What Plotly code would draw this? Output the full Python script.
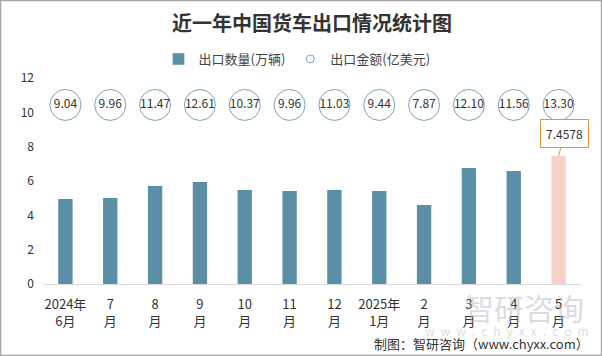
import plotly.graph_objects as go

categories = ["2024年<br>6月", "7<br>月", "8<br>月", "9<br>月", "10<br>月", "11<br>月",
              "12<br>月", "2025年<br>1月", "2<br>月", "3<br>月", "4<br>月", "5<br>月"]
export_volume = [4.95, 5.01, 5.71, 5.94, 5.47, 5.42, 5.47, 5.42, 4.60, 6.76, 6.58, 7.4578]
export_value = [9.04, 9.96, 11.47, 12.61, 10.37, 9.96, 11.03, 9.44, 7.87, 12.10, 11.56, 13.30]
y_ticks = [0, 2, 4, 6, 8, 10, 12]
callout_text = "7.4578"

W, H = 602, 356
ML, MR, MT, MB = 43, 21, 78, 72
PW, PH = W - ML - MR, H - MT - MB
CIRCLE_ROW = 10.43

FONT = "Noto Sans CJK SC"
BAR = "#5b8fa6"
HIGHLIGHT = "#f6d1c7"

bar_colors = [BAR] * (len(categories) - 1) + [HIGHLIGHT]

fig = go.Figure()
fig.add_trace(go.Bar(
    x=categories, y=export_volume, name="出口数量(万辆)",
    marker=dict(color=bar_colors, line=dict(width=0)), width=0.32,
    showlegend=False,
))
fig.add_trace(go.Bar(
    x=[None], y=[None], name="出口数量(万辆)", marker=dict(color=BAR),
))
fig.add_trace(go.Scatter(
    x=categories, y=[CIRCLE_ROW] * len(categories), mode="markers+text",
    text=[f"{v:.2f}" for v in export_value], textposition="middle center",
    textfont=dict(size=12, color="#333333", family=FONT),
    marker=dict(symbol="circle", size=31, color="white",
                line=dict(color="#7da3b4", width=1)),
    showlegend=False, cliponaxis=False,
))
fig.add_trace(go.Scatter(
    x=[None], y=[None], mode="markers", name="出口金额(亿美元)",
    marker=dict(symbol="circle-open", size=8, color="#7da3b4", line=dict(width=1)),
))

fig.add_annotation(
    x=categories[-1], y=export_volume[-1], xref="x", yref="y",
    text=callout_text, showarrow=True, arrowhead=0, arrowwidth=1,
    arrowcolor="#e8963c", ax=6, ay=-22,
    bordercolor="#e8963c", borderwidth=1, borderpad=5, bgcolor="white",
    font=dict(size=12, color="#333333", family=FONT),
)

# watermark
fig.add_annotation(
    x=(524 - ML) / PW, y=(H - MB - 307) / PH, xref="paper", yref="paper",
    text="智研咨询", showarrow=False, xanchor="center", yanchor="middle",
    font=dict(size=30, color="rgba(170,176,188,0.45)", family=FONT),
)
fig.add_annotation(
    x=(507 - ML) / PW, y=(H - MB - 330) / PH, xref="paper", yref="paper",
    text="\u2002".join("www.chyxx.com"), showarrow=False, xanchor="center", yanchor="middle",
    font=dict(size=12, color="rgba(170,176,188,0.45)", family=FONT),
)
# source
fig.add_annotation(
    x=(591 - ML) / PW, y=(H - MB - 343) / PH, xref="paper", yref="paper",
    text="制图：智研咨询（www.chyxx.com）", showarrow=False, xanchor="right", yanchor="middle",
    font=dict(size=13, color="#333333", family=FONT),
)

fig.add_shape(
    type="rect", xref="paper", yref="paper",
    x0=(0.5 - ML) / PW, x1=(W - 0.5 - ML) / PW,
    y0=-(MB - 0.5) / PH, y1=1 + (MT - 0.5) / PH,
    line=dict(color="#a6a6a6", width=1.5), fillcolor="rgba(0,0,0,0)",
)

fig.update_layout(
    width=W, height=H,
    margin=dict(l=ML, r=MR, t=MT, b=MB, autoexpand=False),
    paper_bgcolor="white", plot_bgcolor="white",
    font=dict(family=FONT, size=12, color="#333333"),
    title=dict(text="<b>近一年中国货车出口情况统计图</b>", x=0.5, xref="paper",
               y=1 - 24 / H, yanchor="middle",
               font=dict(size=20, color="#333333", family=FONT)),
    legend=dict(orientation="h", x=(297 - ML) / PW, xanchor="center", y=1 + 19 / PH,
                yanchor="middle", font=dict(size=13, color="#444444", family=FONT),
                itemwidth=30, bgcolor="rgba(0,0,0,0)"),
    barmode="overlay",
    xaxis=dict(range=[-0.5, len(categories) - 0.5], showline=True, linecolor="#d9d9d9",
               linewidth=1, ticks="", showgrid=False, automargin=False,
               tickfont=dict(size=13, color="#333333"), ticklabelstandoff=8),
    yaxis=dict(range=[0, 12], tickvals=y_ticks, showgrid=False, zeroline=False,
               showline=False, ticks="", automargin=False,
               tickfont=dict(size=12, color="#333333"), ticklabelstandoff=8),
)

fig.write_html("out.html", config={"displayModeBar": False},
               post_script="document.body.style.margin='0';")
